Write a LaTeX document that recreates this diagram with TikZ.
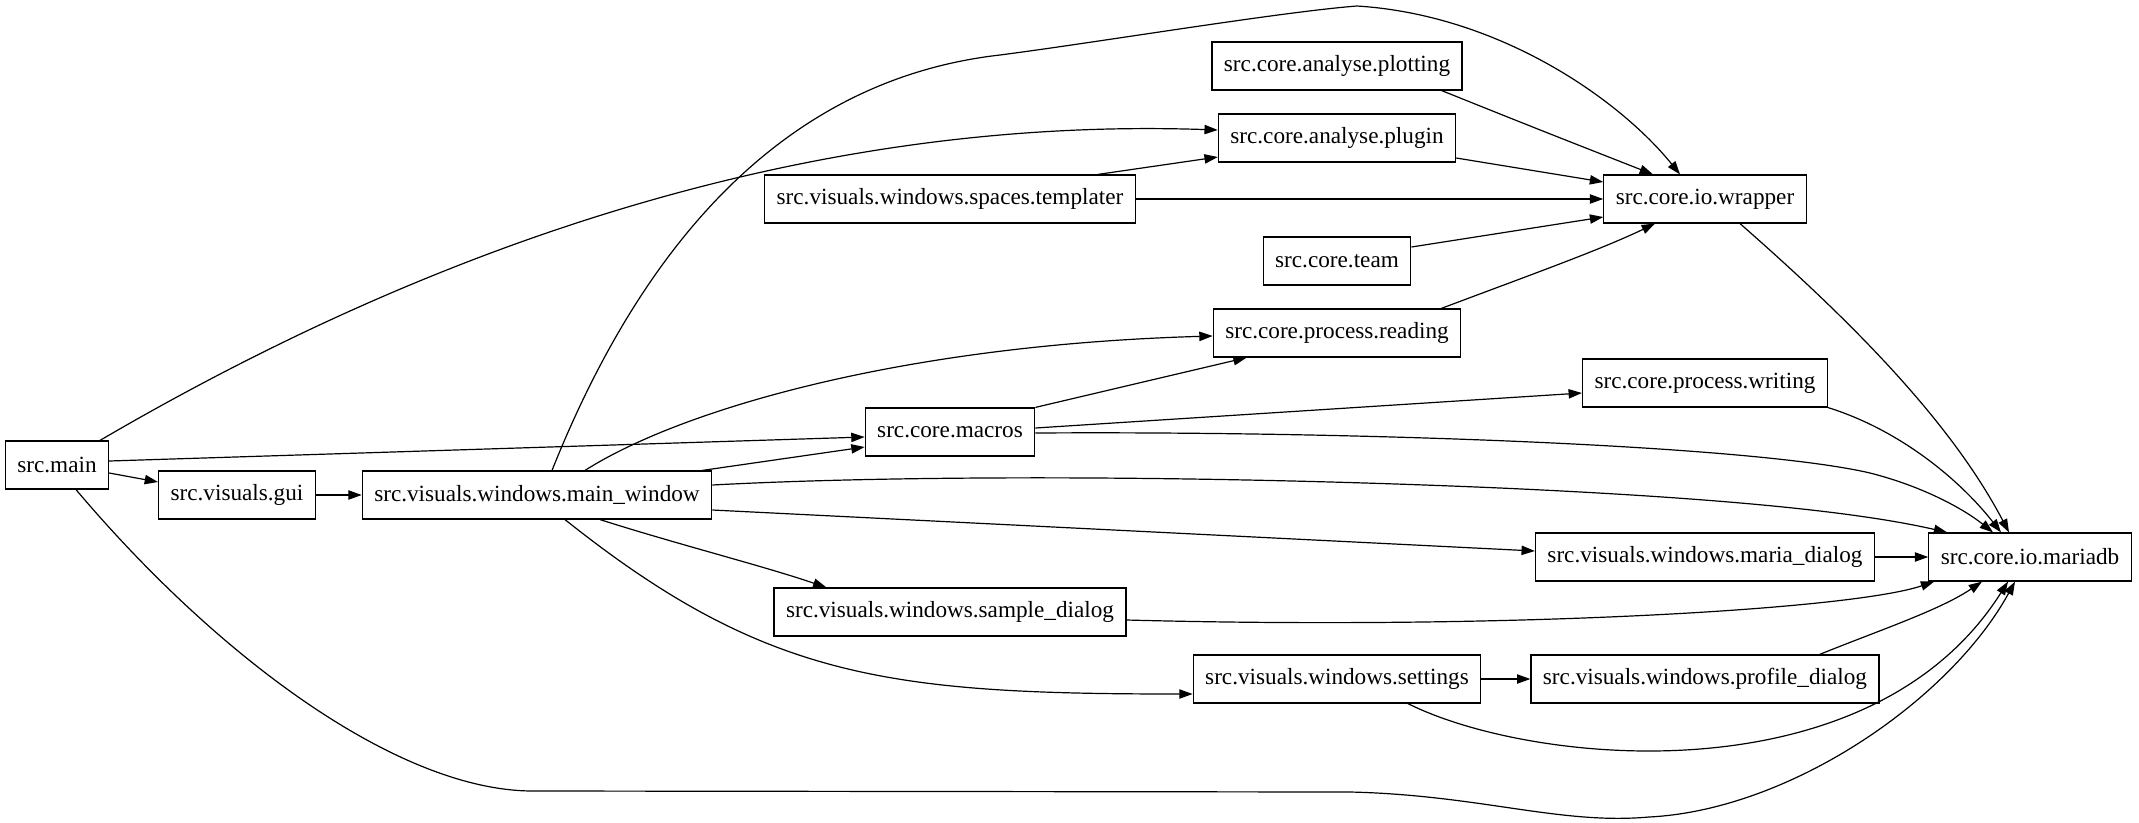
\documentclass[tikz,border=0pt]{standalone}
\usepackage{fontspec}
\setmainfont{Liberation Serif}
\usetikzlibrary{arrows.meta,calc}
\begin{document}
\begin{tikzpicture}[x=0.75pt,y=-0.75pt,
  pkg/.style={draw,line width=0.9pt,rectangle,minimum height=36pt,inner xsep=9pt,
    font=\fontsize{17.4}{20}\selectfont},
  dep/.style={line width=0.9pt,-{Triangle[length=10pt,width=7pt]}}]
\useasboundingbox (0,0) rectangle (2139,822);
\node[pkg] (main) at (57,465) {src.main};
\node[pkg] (gui) at (237,495) {src.visuals.gui};
\node[pkg] (mainwin) at (537,495) {src.visuals.windows.main\_window};
\node[pkg] (templater) at (950,199) {src.visuals.windows.spaces.templater};
\node[pkg] (macros) at (950,432) {src.core.macros};
\node[pkg] (sample) at (950,612) {src.visuals.windows.sample\_dialog};
\node[pkg] (plotting) at (1337,66) {src.core.analyse.plotting};
\node[pkg] (plugin) at (1337,138) {src.core.analyse.plugin};
\node[pkg] (team) at (1337,261) {src.core.team};
\node[pkg] (reading) at (1337,333) {src.core.process.reading};
\node[pkg] (settings) at (1337,679) {src.visuals.windows.settings};
\node[pkg] (wrapper) at (1705,199) {src.core.io.wrapper};
\node[pkg] (writing) at (1705,383) {src.core.process.writing};
\node[pkg] (mariadialog) at (1705,557) {src.visuals.windows.maria\_dialog};
\node[pkg] (profile) at (1705,679) {src.visuals.windows.profile\_dialog};
\node[pkg] (mariadb) at (2030,557) {src.core.io.mariadb};
% src.main
\draw[dep] ($(main.north)+(43,0)$) .. controls (400,265) and (780,115) .. ($(plugin.west)+(0,-8)$);
\draw[dep] ($(main.east)+(0,-4)$) -- ($(macros.west)+(0,5)$);
\draw[dep] ($(main.east)+(0,8)$) -- ($(gui.west)+(0,-13)$);
\draw[dep] ($(main.south)+(19,0)$) .. controls (220,660) and (400,791) .. (533,791) -- (1350,792)
  .. controls (1480,795) and (1560,825) .. (1649,817)
  .. controls (1790,810) and (1950,700) .. ($(mariadb.south)+(-15,0)$);
\draw[dep] (gui.east) -- (mainwin.west);
% main window
\draw[dep] ($(mainwin.north)+(15,0)$) .. controls (640,250) and (780,80) .. (1000,55)
  .. controls (1100,42) and (1280,12) .. (1357,6)
  .. controls (1500,15) and (1620,100) .. ($(wrapper.north)+(-25,0)$);
\draw[dep] ($(mainwin.north)+(48,0)$) .. controls (680,410) and (900,345) .. ($(reading.west)+(0,3)$);
\draw[dep] ($(mainwin.north east)+(-10,0)$) -- ($(macros.west)+(0,15)$);
\draw[dep] ($(mainwin.east)+(0,-10)$) .. controls (900,475) and (1200,475) .. (1500,488)
  .. controls (1700,497) and (1850,510) .. ($(mariadb.north west)+(19,0)$);
\draw[dep] ($(mainwin.east)+(0,15)$) -- ($(mariadialog.west)+(0,-6)$);
\draw[dep] ($(mainwin.south)+(63,0)$) .. controls (680,545) and (760,565) .. ($(sample.north west)+(53,0)$);
\draw[dep] ($(mainwin.south)+(28,0)$) .. controls (765,679) and (889,694) .. ($(settings.west)+(0,15)$);
% middle ranks
\draw[dep] ($(templater.north east)+(-38,0)$) -- ($(plugin.west)+(0,19)$);
\draw[dep] (templater.east) -- (wrapper.west);
\draw[dep] ($(macros.north east)$) -- ($(reading.south west)+(34,0)$);
\draw[dep] ($(macros.east)+(0,-4)$) -- ($(writing.west)+(0,10)$);
\draw[dep] ($(macros.east)+(0,1)$) .. controls (1350,431) and (1750,445) .. (1870,473)
  .. controls (1925,487) and (1965,510) .. ($(mariadb.north)+(-37,0)$);
\draw[dep] ($(sample.east)+(0,8)$) .. controls (1500,630) and (1850,610) .. ($(mariadb.south west)+(6,0)$);
\draw[dep] ($(plotting.south east)+(-21,0)$) .. controls (1540,130) .. ($(wrapper.north)+(-52,0)$);
\draw[dep] ($(plugin.east)+(0,20)$) -- ($(wrapper.west)+(0,-17)$);
\draw[dep] ($(team.east)+(0,-14)$) -- ($(wrapper.west)+(0,18)$);
\draw[dep] ($(reading.north east)+(-20,0)$) .. controls (1530,275) and (1600,250) .. ($(wrapper.south)+(-50,0)$);
\draw[dep] (settings.east) -- (profile.west);
\draw[dep] ($(settings.south)+(71,0)$) .. controls (1530,765) and (1870,800) .. ($(mariadb.south)+(-22,0)$);
% into mariadb
\draw[dep] ($(wrapper.south)+(35,0)$) .. controls (1850,320) and (1950,420) .. ($(mariadb.north)+(-21,0)$);
\draw[dep] (writing.south east) .. controls (1900,430) and (1960,480) .. ($(mariadb.north)+(-29,0)$);
\draw[dep] (mariadialog.east) -- (mariadb.west);
\draw[dep] ($(profile.north east)+(-60,0)$) .. controls (1880,630) and (1940,610) .. ($(mariadb.south)+(-48,0)$);
\end{tikzpicture}
\end{document}
